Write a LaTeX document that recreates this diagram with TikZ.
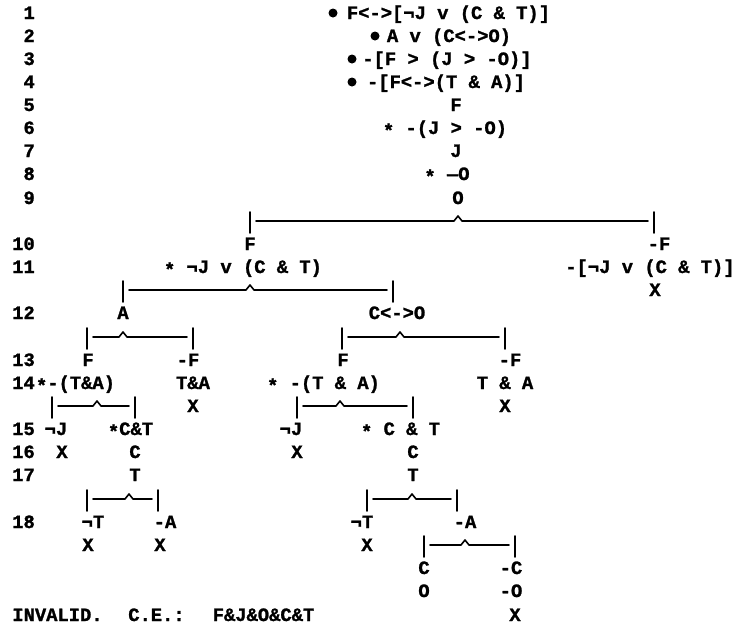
\documentclass[tikz,border=0pt]{standalone}
\usepackage{fontspec}
\setmonofont{Liberation Mono}[BoldFeatures={FakeBold=1.3}]
\newcommand\brnch[4]{%
  \draw[lw] (#2,#1-9) -- (#2,#1+12);
  \draw[lw] (#4,#1-9) -- (#4,#1+12);
  \draw[lw] (#2+6,#1) -- (#3-4,#1) -- (#3,#1-5) -- (#3+4,#1) -- (#4-6,#1);}
\newcommand\st{\raisebox{-3pt}{*}}
\begin{document}
\begin{tikzpicture}[x=1pt,y=-1pt,
  tx/.style={font=\ttfamily\bfseries\fontsize{18.8}{22}\selectfont, inner sep=0pt, anchor=base, yshift=-6pt},
  num/.style={tx, anchor=base east},
  dot/.style={circle, fill=black, inner sep=0pt, minimum size=9pt},
  lw/.style={line width=1.6pt, line cap=round, line join=round}]
\fill[white] (0,0) rectangle (741,627);
\useasboundingbox (0,0) rectangle (741,627);
\foreach \n/\y in {1/13,2/36,3/59,4/82,5/105,6/128,7/151,8/174,9/198,10/244,11/267,12/313,13/360,14/383,15/429,16/452,17/475,18/522}
  \node[num] (n\n) at (35,\y) {\n};
% premises and first lines
\node[dot] (d1) at (333,13) {};
\node[tx] (p1) at (448.5,13) {F<->[¬J v (C \& T)]};
\node[dot] (d2) at (375,36) {};
\node[tx] (p2) at (449,36) {A v (C<->O)};
\node[dot] (d3) at (352,59) {};
\node[tx] (p3) at (447,59) {-[F > (J > -O)]};
\node[dot] (d4) at (352,82) {};
\node[tx] (p4) at (446,82) {-[F<->(T \& A)]};
\node[tx] (l5) at (456,105) {F};
\node[tx] (l6) at (445,128) {\st{} -(J > -O)};
\node[tx] (l7) at (456,151) {J};
\node[tx] (l8) at (447,174) {\st{} —O};
\node[tx] (l9) at (458,198) {O};
% first branching
\brnch{221}{250}{458}{654}
\node[tx] (l10a) at (250,244) {F};
\node[tx] (l10b) at (659,244) {-F};
\node[tx] (l11a) at (243,267) {\st{} ¬J v (C \& T)};
\node[tx] (l11b) at (650,267) {-[¬J v (C \& T)]};
\node[tx] (x11) at (655,290) {X};
\brnch{290}{123}{250}{393}
\node[tx] (l12a) at (123,313) {A};
\node[tx] (l12b) at (397,313) {C<->O};
\brnch{337}{87}{123}{193}
\brnch{337}{342}{400}{505}
\node[tx] (l13a) at (88,360) {F};
\node[tx] (l13b) at (188,360) {-F};
\node[tx] (l13c) at (343,360) {F};
\node[tx] (l13d) at (510,360) {-F};
\node[tx] (l14a) at (75.5,383) {\st-(T\&A)};
\node[tx] (l14b) at (193,383) {T\&A};
\node[tx] (l14c) at (323.5,383) {\st{} -(T \& A)};
\node[tx] (l14d) at (505,383) {T \& A};
\node[tx] (x14b) at (193,406) {X};
\node[tx] (x14d) at (505,406) {X};
\brnch{406}{52}{97}{135}
\brnch{406}{297}{340}{413}
\node[tx] (l15a) at (56,429) {¬J};
\node[tx] (l15b) at (130.5,429) {\st{}C\&T};
\node[tx] (l15c) at (291,429) {¬J};
\node[tx] (l15d) at (400.5,429) {\st{} C \& T};
\node[tx] (x15a) at (62,452) {X};
\node[tx] (l16b) at (135,452) {C};
\node[tx] (x15c) at (297,452) {X};
\node[tx] (l16d) at (413,452) {C};
\node[tx] (l17b) at (135,475) {T};
\node[tx] (l17d) at (413,475) {T};
\brnch{499}{87}{129}{158}
\brnch{499}{367}{412}{457}
\node[tx] (l18a) at (93,522) {¬T};
\node[tx] (l18b) at (165,522) {-A};
\node[tx] (l18c) at (362,522) {¬T};
\node[tx] (l18d) at (465,522) {-A};
\node[tx] (x18a) at (88,545) {X};
\node[tx] (x18b) at (160,545) {X};
\node[tx] (x18c) at (367,545) {X};
\brnch{545}{424}{465}{515}
\node[tx] (l20a) at (424,568) {C};
\node[tx] (l20b) at (511,568) {-C};
\node[tx] (l21a) at (424,591) {O};
\node[tx] (l21b) at (511,591) {-O};
\node[tx] (x22) at (515,615) {X};
\node[tx] (inv) at (57.5,615) {INVALID.};
\node[tx] (ce) at (156.5,615) {C.E.:};
\node[tx] (cex) at (263.5,615) {F\&J\&O\&C\&T};
\end{tikzpicture}
\end{document}
